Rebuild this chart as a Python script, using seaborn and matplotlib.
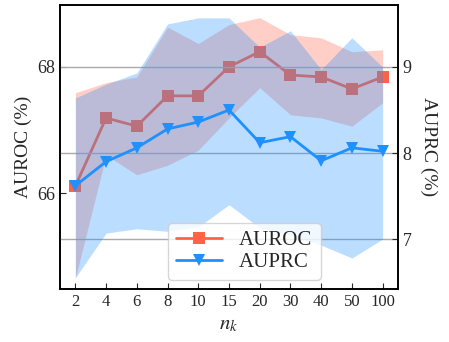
import numpy as np
import pandas as pd
import matplotlib
matplotlib.use("Agg")
import matplotlib.pyplot as plt
import seaborn as sns

# ---- data ----
nk_labels = ["2", "4", "6", "8", "10", "15", "20", "30", "40", "50", "100"]

auroc_mean = [66.11, 67.19, 67.06, 67.54, 67.54, 68.00, 68.24, 67.87, 67.84, 67.65, 67.84]
auroc_upper = [67.59, 67.75, 67.84, 68.63, 68.37, 68.67, 68.78, 68.51, 68.46, 68.24, 68.27]
auroc_lower = [64.65, 66.60, 66.29, 66.44, 66.68, 67.19, 67.67, 67.24, 67.19, 67.06, 67.43]

auprc_mean = [7.62, 7.90, 8.06, 8.28, 8.36, 8.50, 8.12, 8.19, 7.91, 8.06, 8.02]
auprc_upper = [8.64, 8.80, 8.93, 9.50, 9.57, 9.57, 9.23, 9.42, 8.97, 9.34, 9.00]
auprc_lower = [6.55, 7.07, 7.12, 7.09, 7.14, 7.40, 7.13, 7.05, 6.93, 6.78, 7.00]

red = "#ff6347"
blue = "#1e90ff"

sns.set_style("ticks")
plt.rcParams["font.family"] = ["Liberation Serif", "DejaVu Serif"]
plt.rcParams["mathtext.fontset"] = "stix"

pos = np.arange(len(nk_labels))
df = pd.DataFrame({"pos": pos, "auroc": auroc_mean, "auprc": auprc_mean})

fig = plt.figure(figsize=(4.49, 3.42), dpi=100)
ax1 = fig.add_axes([0.1336, 0.155, 0.7528, 0.8304])
ax2 = ax1.twinx()

# AUROC on left axis
ax1.fill_between(pos, auroc_lower, auroc_upper, color=red, alpha=0.3, linewidth=0)
sns.lineplot(data=df, x="pos", y="auroc", ax=ax1, color=red, marker="s",
             markersize=8, markeredgewidth=0, linewidth=2, label="AUROC", legend=False)

# AUPRC on right axis
ax2.fill_between(pos, auprc_lower, auprc_upper, color=blue, alpha=0.3, linewidth=0)
sns.lineplot(data=df, x="pos", y="auprc", ax=ax2, color=blue, marker="v",
             markersize=9, markeredgewidth=0, linewidth=2, label="AUPRC", legend=False)

ax1.set_xlim(-0.5, 10.5)
ax1.set_ylim(64.48, 68.98)
ax2.set_ylim(6.42, 9.72)

ax1.set_xticks(pos)
ax1.set_xticklabels(nk_labels)
ax1.set_yticks([66, 68])
ax2.set_yticks([7, 8, 9])

ax2.grid(axis="y", color="#aaaaaa", linewidth=1)
ax1.grid(False)

ax1.tick_params(axis="both", direction="in", labelsize=13, length=4)
ax1.tick_params(axis="x", labelsize=12)
ax2.tick_params(axis="y", direction="in", labelsize=13, length=4)

ax1.set_xlabel("$n_k$", fontsize=15)
ax1.set_ylabel("AUROC (%)", fontsize=14)
ax2.set_ylabel("AUPRC (%)", fontsize=14, rotation=270, labelpad=18)

for a in (ax1, ax2):
    for s in a.spines.values():
        s.set_linewidth(1.2)
        s.set_color("black")

h1, l1 = ax1.get_legend_handles_labels()
h2, l2 = ax2.get_legend_handles_labels()
ax2.legend(h1 + h2, l1 + l2, loc="lower left", bbox_to_anchor=(0.32, 0.03),
           borderaxespad=0, fontsize=15, handlelength=2.2, labelspacing=0.1)

fig.savefig("out.png", dpi=100)
